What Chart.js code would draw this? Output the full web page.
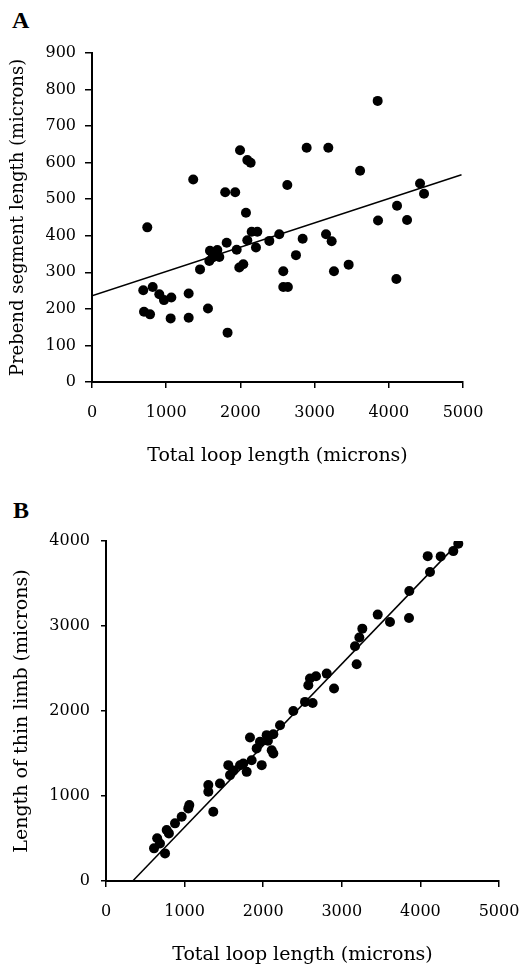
<!DOCTYPE html>
<html>
<head>
<meta charset="utf-8">
<script src="https://cdn.jsdelivr.net/npm/chart.js@4.4.1/dist/chart.umd.min.js"></script>
<style>
  body { margin: 0; background: #fff; width: 522px; height: 969px; position: relative; overflow: hidden; }
  canvas { position: absolute; left: 0; }
  .panel { position: absolute; font: bold 24px "Liberation Serif", serif; line-height: 24px; color: #000; }
</style>
</head>
<body>
<div class="panel" style="left:12px; top:8px;">A</div>
<div class="panel" style="left:13px; top:498px;">B</div>
<canvas id="chartA" width="522" height="485" style="top:0px"></canvas>
<canvas id="chartB" width="522" height="484" style="top:485px"></canvas>
<script>
// Panel A: total loop length vs prebend segment length
const loopA = [745, 691, 818, 907, 970, 1069, 701, 782, 1060, 1303, 1303, 1456, 1563, 1590, 1689, 1626, 1581, 1716,
  1364, 1795, 1930, 1815, 1827, 1950, 1985, 2039, 2075, 1995, 2093, 2138, 2093, 2152, 2228, 2210, 2390, 2524,
  2578, 2578, 2640, 2632, 2749, 2839, 2893, 3185, 3154, 3230, 3261, 3459, 3613, 3850, 3855, 4102, 4111, 4246, 4421, 4475];
const prebendA = [423, 251, 260, 240, 224, 231, 192, 185, 174, 242, 176, 308, 201, 359, 361, 341, 331, 342,
  554, 519, 519, 381, 135, 362, 313, 322, 463, 634, 607, 600, 388, 411, 411, 368, 386, 404,
  303, 260, 260, 539, 347, 392, 641, 641, 404, 385, 303, 321, 578, 769, 442, 282, 482, 443, 543, 515];
const fitLineAx = [0, 4980];
const fitLineAy = [236, 567];

// Panel B: total loop length vs length of thin limb
const loopB = [611, 687, 651, 751, 772, 800, 878, 963, 1060, 1047, 1365, 1302, 1302, 1450, 1556, 1578, 1620, 1705,
  1747, 1790, 1832, 1853, 1917, 1959, 1981, 2044, 2108, 2129, 2129, 2060, 2214, 2383, 2532, 2629, 2574, 2595,
  2672, 2808, 2901, 3168, 3189, 3223, 3261, 3457, 3613, 3855, 3859, 4122, 4093, 4258, 4419, 4482];
const thinLimbB = [384, 442, 502, 325, 599, 560, 678, 756, 893, 854, 814, 1128, 1049, 1148, 1363, 1246, 1300, 1362,
  1383, 1284, 1689, 1421, 1560, 1637, 1363, 1716, 1539, 1500, 1727, 1650, 1833, 2001, 2107, 2095, 2303, 2382,
  2409, 2440, 2264, 2761, 2550, 2864, 2969, 3134, 3047, 3094, 3411, 3635, 3822, 3819, 3881, 3968];
const fitLineBx = [340, 4480];
const fitLineBy = [0, 3975];

const xTicks = [0, 1000, 2000, 3000, 4000, 5000];
const yTicksA = [0, 100, 200, 300, 400, 500, 600, 700, 800, 900];
const yTicksB = [0, 1000, 2000, 3000, 4000];

const xTitle = 'Total loop length (microns)';
const yTitleA = 'Prebend segment length (microns)';
const yTitleB = 'Length of thin limb (microns)';

const FONT = 'DejaVu Serif';

function pts(xs, ys) {
    return xs.map((x, i) => ({ x: x, y: ys[i] }));
}

// fixed box sizes, no label overhang padding
function fixBox(s, w, h) {
    if (w !== null) s.width = w;
    if (h !== null) s.height = h;
    s.paddingLeft = 0; s.paddingRight = 0; s.paddingTop = 0; s.paddingBottom = 0;
}

function makeChart(id, cfg) {
    const ctx = document.getElementById(id).getContext('2d');
    return new Chart(ctx, {
        type: 'scatter',
        data: {
            datasets: [{
                data: pts(cfg.xs, cfg.ys),
                pointRadius: 5,
                pointBackgroundColor: '#000',
                pointBorderWidth: 0,
                showLine: false
            }, {
                data: pts(cfg.lx, cfg.ly),
                showLine: true,
                borderColor: '#000',
                borderWidth: 1.5,
                pointRadius: 0
            }]
        },
        options: {
            responsive: false,
            animation: false,
            devicePixelRatio: 1,
            layout: { padding: cfg.padding },
            plugins: { legend: { display: false }, tooltip: { enabled: false } },
            scales: {
                x: {
                    type: 'linear', min: 0, max: 5000,
                    afterBuildTicks: s => { s.ticks = xTicks.map(v => ({ value: v })); },
                    afterFit: s => fixBox(s, null, cfg.xHeight),
                    ticks: { color: '#000', font: { family: FONT, size: 16 }, padding: cfg.xTickPad, callback: v => String(v) },
                    grid: { drawOnChartArea: false, color: '#000', tickLength: 6, lineWidth: 1.5 },
                    border: { color: '#000', width: 2 },
                    title: { display: true, text: xTitle, color: '#000', font: { family: FONT, size: 19 }, padding: { top: 0, bottom: cfg.xTitlePad } }
                },
                y: {
                    type: 'linear', min: 0, max: cfg.ymax,
                    afterBuildTicks: s => { s.ticks = cfg.yTicks.map(v => ({ value: v })); },
                    afterFit: s => fixBox(s, cfg.yWidth, null),
                    ticks: { color: '#000', font: { family: FONT, size: 16 }, padding: cfg.yTickPad, callback: v => String(v) },
                    grid: { drawOnChartArea: false, color: '#000', tickLength: cfg.yTickLen, lineWidth: 1.5 },
                    border: { color: '#000', width: 2 },
                    title: { display: true, text: cfg.yTitle, color: '#000', font: { family: FONT, size: cfg.yTitleSize }, padding: { top: cfg.yTitlePad, bottom: 0 } }
                }
            }
        }
    });
}

makeChart('chartA', {
    xs: loopA, ys: prebendA, lx: fitLineAx, ly: fitLineAy,
    ymax: 900, yTicks: yTicksA, yTitle: yTitleA, yTitleSize: 18,
    padding: { top: 53, right: 59, left: 0, bottom: 0 },
    xHeight: 103, yWidth: 92,
    xTickPad: 15, xTitlePad: 17.5, yTickPad: 9, yTickLen: 7, yTitlePad: 8
});

makeChart('chartB', {
    xs: loopB, ys: thinLimbB, lx: fitLineBx, ly: fitLineBy,
    ymax: 4000, yTicks: yTicksB, yTitle: yTitleB, yTitleSize: 19,
    padding: { top: 56, right: 23, left: 0, bottom: 0 },
    xHeight: 88, yWidth: 106,
    xTickPad: 15, xTitlePad: 2.5, yTickPad: 11, yTickLen: 5, yTitlePad: 10.5
});
</script>
</body>
</html>
